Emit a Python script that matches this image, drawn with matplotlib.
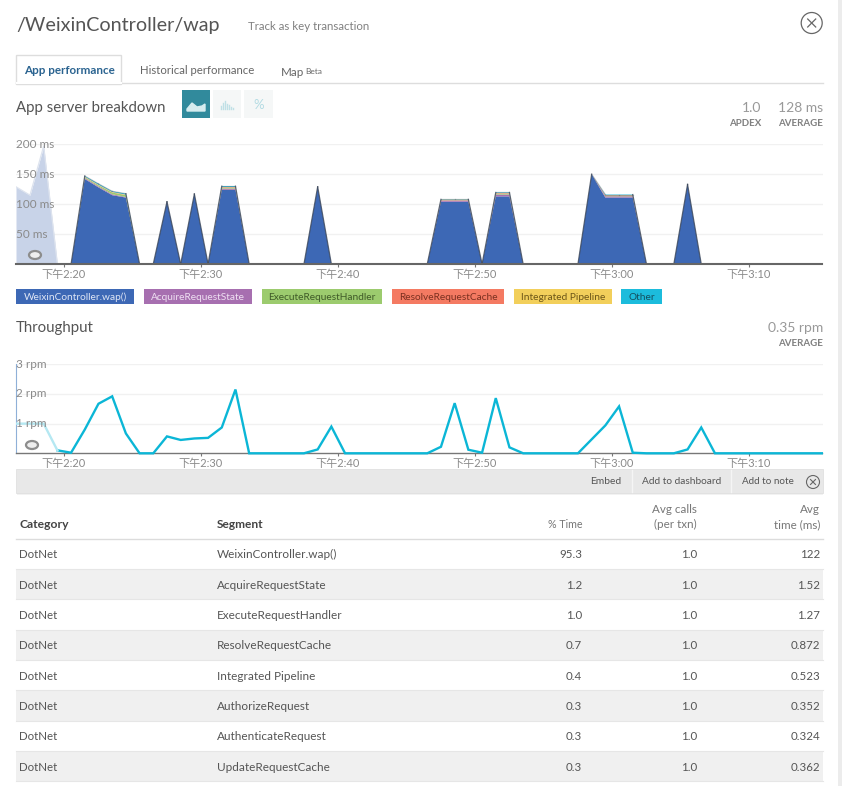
import matplotlib
matplotlib.use('Agg')
import matplotlib.pyplot as plt
from matplotlib.patches import Rectangle, Circle, Ellipse

plt.rcParams['font.family'] = ['Lato', 'Noto Sans CJK SC', 'DejaVu Sans']

W, H = 842, 786

# minutes after 2:00 for each sample (one per minute)
minutes = [16.55 + i for i in range(60)]

wap = [0, 0, 0, 0, 0, 142, 128, 115, 111, 0, 0, 104, 0, 117, 0, 124, 124, 0, 0, 0, 0, 0, 129, 0, 0, 0, 0, 0, 0, 0,
       0, 104, 104, 104, 0, 113, 113, 0, 0, 0, 0, 0, 150, 111, 111, 111, 0, 0, 0, 133, 0, 0, 0, 0, 0, 0, 0, 0, 0, 0]
acquire = [0, 0, 0, 0, 0, 1.5, 1.5, 1.5, 1, 0, 0, 0, 0, 0, 0, 2, 2, 0, 0, 0, 0, 0, 0, 0, 0, 0, 0, 0, 0, 0,
           0, 2, 2, 2, 0, 3, 3, 0, 0, 0, 0, 0, 0, 2, 2, 2, 0, 0, 0, 0, 0, 0, 0, 0, 0, 0, 0, 0, 0, 0]
execute = [0, 0, 0, 0, 0, 1.5, 2, 3, 3, 0, 0, 0, 0, 0, 0, 1, 1, 0, 0, 0, 0, 0, 0, 0, 0, 0, 0, 0, 0, 0,
           0, 0.5, 0.5, 0.5, 0, 1, 1, 0, 0, 0, 0, 0, 0, 0.5, 0.5, 0.5, 0, 0, 0, 0, 0, 0, 0, 0, 0, 0, 0, 0, 0, 0]
resolve = [0, 0, 0, 0, 0, 0.5, 0.5, 0.5, 0.5, 0, 0, 0, 0, 0, 0, 1, 1, 0, 0, 0, 0, 0, 0, 0, 0, 0, 0, 0, 0, 0,
           0, 0.5, 0.5, 0.5, 0, 1, 1, 0, 0, 0, 0, 0, 0, 1, 1, 1, 0, 0, 0, 0, 0, 0, 0, 0, 0, 0, 0, 0, 0, 0]
integrated = [0, 0, 0, 0, 0, 0.5, 0.5, 0.5, 0.5, 0, 0, 0, 0, 0, 0, 0.5, 0.5, 0, 0, 0, 0, 0, 0, 0, 0, 0, 0, 0, 0, 0,
              0, 0.5, 0.5, 0.5, 0, 0.5, 0.5, 0, 0, 0, 0, 0, 0, 0.5, 0.5, 0.5, 0, 0, 0, 0, 0, 0, 0, 0, 0, 0, 0, 0, 0, 0]
other = [0, 0, 0, 0, 0, 1, 1.5, 1, 1.5, 0, 0, 0, 0, 0, 0, 1.5, 1.5, 0, 0, 0, 0, 0, 0, 0, 0, 0, 0, 0, 0, 0,
         0, 0.5, 0.5, 0.5, 0, 1, 1, 0, 0, 0, 0, 0, 0, 1, 1, 1, 0, 0, 0, 0, 0, 0, 0, 0, 0, 0, 0, 0, 0, 0]
# the part of the chart hidden under the pale overlay
faded_minutes = [16.53, 17.55, 18.55, 19.55, 20.55]
faded_ms = [129, 115, 197, 0, 0]

rpm = [1, 1, 1, 0.1, 0.02, 0.8, 1.67, 1.92, 0.67, 0, 0, 0.57, 0.45, 0.5, 0.52, 0.87, 2.15, 0, 0, 0, 0, 0, 0.13, 0.9,
       0, 0, 0, 0, 0, 0, 0, 0.22, 1.69, 0.12, 0.02, 1.86, 0.2, 0, 0, 0, 0, 0, 0.47, 0.94, 1.58, 0.02, 0, 0, 0, 0.13, 0.87,
       0, 0, 0, 0, 0, 0, 0, 0, 0]

tick_minutes = [20, 30, 40, 50, 60, 70]
tick_labels = ['下午2:20', '下午2:30', '下午2:40', '下午2:50', '下午3:00', '下午3:10']

series_names = ['WeixinController.wap()', 'AcquireRequestState', 'ExecuteRequestHandler',
                'ResolveRequestCache', 'Integrated Pipeline', 'Other']
series_colors = ['#3d68b5', '#a76fb0', '#9ccb6e', '#f47a62', '#f2cf5b', '#1cbcdc']

categories = ['DotNet'] * 8
segments = ['WeixinController.wap()', 'AcquireRequestState', 'ExecuteRequestHandler', 'ResolveRequestCache',
            'Integrated Pipeline', 'AuthorizeRequest', 'AuthenticateRequest', 'UpdateRequestCache']
pct_time = ['95.3', '1.2', '1.0', '0.7', '0.4', '0.3', '0.3', '0.3']
avg_calls = ['1.0'] * 8
avg_time = ['122', '1.52', '1.27', '0.872', '0.523', '0.352', '0.324', '0.362']


def pixel_axes(fig, left, top, right, bottom):
    return fig.add_axes([left / W, 1 - bottom / H, (right - left) / W, (bottom - top) / H])


def time_axis(ax, ymax, yticks, ylabels):
    ax.set_xlim(16.53, 75.4)
    ax.set_ylim(0, ymax)
    ax.patch.set_alpha(0)
    for s in ['top', 'right', 'left']:
        ax.spines[s].set_visible(False)
    ax.set_xticks(tick_minutes)
    ax.set_xticklabels(tick_labels, color='#8a8a8a', fontsize=8)
    ax.tick_params(axis='x', length=2.5, width=0.8, color='#777777', pad=1)
    ax.set_yticks(yticks)
    ax.set_yticklabels([])
    ax.tick_params(axis='y', length=0)
    ax.grid(axis='y', color='#f1f1f1', lw=1)
    ax.set_axisbelow(True)
    for y, lab in zip(yticks, ylabels):
        ax.text(16.53, y, lab, color='#8a8a8a', fontsize=8.5, va='center', ha='left', zorder=6)


fig = plt.figure(figsize=(W / 100, H / 100), dpi=100, facecolor='white')

# page furniture, in pixel coordinates
bg = fig.add_axes([0, 0, 1, 1])
bg.set_xlim(0, W)
bg.set_ylim(H, 0)
bg.axis('off')
bg.add_patch(Rectangle((838, 0), 4, H, fc='#ececec', ec='none'))

bg.text(16, 26, '/WeixinController/wap', fontsize=14.2, color='#555555', va='center')
bg.text(248, 27, 'Track as key transaction', fontsize=8.25, color='#808080', va='center')
bg.add_patch(Circle((811.7, 23), 10.5, fc='white', ec='#666666', lw=0.9))
bg.plot([807.7, 815.7], [19, 27], color='#666666', lw=0.9)
bg.plot([807.7, 815.7], [27, 19], color='#666666', lw=0.9)

# tabs
bg.plot([16, 823], [83, 83], color='#dddddd', lw=1)
bg.add_patch(Rectangle((16, 54.5), 105, 29, fc='white', ec='#dddddd', lw=1))
bg.plot([17, 120.5], [83, 83], color='white', lw=1.5)
bg.text(24, 71, 'App performance', fontsize=8.4, color='#2a6390', fontweight='bold', va='center')
bg.text(140, 71, 'Historical performance', fontsize=8.2, color='#666666', va='center')
bg.text(281, 73, 'Map', fontsize=8.4, color='#666666', va='center')
bg.text(305, 71, 'Beta', fontsize=6, color='#666666', va='center')

bg.text(16, 108, 'App server breakdown', fontsize=10.8, color='#555555', va='center')
bg.add_patch(Rectangle((182, 90), 28, 28, fc='#318a9c', ec='none'))
bg.add_patch(Rectangle((213, 90), 28, 28, fc='#f5f7f7', ec='none'))
bg.add_patch(Rectangle((244, 90), 29, 28, fc='#f5f7f7', ec='none'))
bg.fill([187, 192, 197, 202, 205, 205, 187], [109, 103, 107, 106, 104, 111, 111], color='#d5ecef')
for i, h in enumerate([3, 6, 8, 5, 4, 2, 1]):
    bg.plot([221 + i * 2, 221 + i * 2], [109, 109 - h], color='#bfe0e6', lw=1)
bg.text(258.5, 105, '%', fontsize=9.5, color='#b3dbe3', ha='center', va='center')

# apdex / average blocks
bg.text(761, 108, '1.0', fontsize=10, color='#999999', ha='right', va='center')
bg.text(823, 108, '128 ms', fontsize=10, color='#999999', ha='right', va='center')
bg.text(761, 123.5, 'APDEX', fontsize=7, color='#808080', fontweight='bold', ha='right', va='center')
bg.text(823, 123.5, 'AVERAGE', fontsize=7, color='#808080', fontweight='bold', ha='right', va='center')

bg.text(16, 328, 'Throughput', fontsize=10.8, color='#555555', va='center')
bg.text(823, 328.5, '0.35 rpm', fontsize=10, color='#999999', ha='right', va='center')
bg.text(823, 343.5, 'AVERAGE', fontsize=7, color='#808080', fontweight='bold', ha='right', va='center')

# legend chips
chip_left = [16, 144, 262, 392, 514, 621]
chip_right = [134, 252, 382, 504, 612, 662]
chip_text = ['#dfe6f5', '#efe0f2', '#3f5a28', '#7a3020', '#6b5518', '#14505f']
for i, name in enumerate(series_names):
    bg.add_patch(Rectangle((chip_left[i], 288.5), chip_right[i] - chip_left[i], 15, fc=series_colors[i], ec='none'))
    bg.text((chip_left[i] + chip_right[i]) / 2, 297, name, fontsize=7.3, color=chip_text[i], ha='center', va='center')

# toolbar
bg.add_patch(Rectangle((17, 471), 806, 23.5, fc='#f2f2f2', ec='none'))
bg.add_patch(Rectangle((16, 469.3), 807, 23.4, fc='#e8e8e8', ec='#e0e0e0', lw=0.6))
bg.text(605.5, 482, 'Embed', fontsize=7.4, color='#555555', ha='center', va='center')
bg.text(681.5, 482, 'Add to dashboard', fontsize=7.3, color='#555555', ha='center', va='center')
bg.text(768, 482, 'Add to note', fontsize=7.1, color='#555555', ha='center', va='center')
bg.plot([631.7, 631.7], [470, 492], color='#f5f5f5', lw=1)
bg.plot([731, 731], [470, 492], color='#f5f5f5', lw=1)
bg.add_patch(Circle((813, 482), 6.5, fc='none', ec='#666666', lw=0.8))
bg.plot([810.5, 815.5], [479.5, 484.5], color='#666666', lw=0.8)
bg.plot([810.5, 815.5], [484.5, 479.5], color='#666666', lw=0.8)

# table
bg.text(19, 524.5, 'Category', fontsize=8.7, color='#444444', fontweight='bold', va='center')
bg.text(217, 524.5, 'Segment', fontsize=8.6, color='#444444', fontweight='bold', va='center')
bg.text(582, 524.5, '% Time', fontsize=7.7, color='#777777', ha='right', va='center')
bg.text(697, 509.5, 'Avg calls', fontsize=8.4, color='#777777', ha='right', va='center')
bg.text(697, 524.5, '(per txn)', fontsize=8.4, color='#777777', ha='right', va='center')
bg.text(820, 509.5, 'Avg', fontsize=8.4, color='#777777', ha='right', va='center')
bg.text(820, 524.5, 'time (ms)', fontsize=8.4, color='#777777', ha='right', va='center')
bg.plot([16, 823], [538.5, 538.5], color='#dcdcdc', lw=1)
row_h = 30.35
for i in range(len(segments)):
    top = 538.5 + i * row_h
    if i % 2 == 1:
        bg.add_patch(Rectangle((16, top), 807, row_h, fc='#f0f0f0', ec='none'))
    bg.plot([16, 823], [top + row_h, top + row_h], color='#e6e6e6', lw=0.8)
    mid = top + row_h / 2 + 1
    bg.text(19, mid, categories[i], fontsize=8.3, color='#555555', va='center')
    bg.text(217, mid, segments[i], fontsize=8.5, color='#555555', va='center')
    bg.text(582, mid, pct_time[i], fontsize=8.3, color='#555555', ha='right', va='center')
    bg.text(697, mid, avg_calls[i], fontsize=8.3, color='#555555', ha='right', va='center')
    bg.text(820, mid, avg_time[i], fontsize=8.3, color='#555555', ha='right', va='center')

# app server breakdown
ax1 = pixel_axes(fig, 16, 144.3, 822.5, 264)
time_axis(ax1, 200, [50, 100, 150, 200], ['50 ms', '100 ms', '150 ms', '200 ms'])
ax1.stackplot(minutes, wap, acquire, execute, resolve, integrated, other, colors=series_colors, lw=0, zorder=3)
totals = [sum(v) for v in zip(wap, acquire, execute, resolve, integrated, other)]
# slopes get the full dark edge, flat tops only a faint one so the thin series show
for i in range(len(totals) - 1):
    if totals[i] == 0 and totals[i + 1] == 0:
        continue
    edge_alpha = 0.8 if totals[i] == 0 or totals[i + 1] == 0 else 0.3
    ax1.plot(minutes[i:i + 2], totals[i:i + 2], color='#3b4658', lw=0.9, alpha=edge_alpha, zorder=4)
ax1.fill_between(faded_minutes, faded_ms, color='#c8d3e8', lw=0, zorder=5)
ax1.plot(faded_minutes, faded_ms, color='#dde3ee', lw=0.9, zorder=5)
ax1.spines['bottom'].set_color('#666666')
ax1.spines['bottom'].set_linewidth(1.5)
ax1.spines['bottom'].set_zorder(7)

# throughput
ax2 = pixel_axes(fig, 16, 364.3, 822.5, 453.3)
time_axis(ax2, 3, [1, 2, 3], ['1 rpm', '2 rpm', '3 rpm'])
# clip a little below the axes so the line at zero keeps its full width, but not past the right edge
clip = Rectangle((16, 350), 806.5, 106, transform=bg.transData)
rpm_line, = ax2.plot(minutes[3:], rpm[3:], color='#0bb6d6', lw=1.7, solid_joinstyle='miter', zorder=4)
rpm_line.set_clip_path(clip)
faded_line, = ax2.plot(minutes[:4], rpm[:4], color='#b5e8f2', lw=1.7, zorder=4)
faded_line.set_clip_path(clip)
ax2.set_xlim(16.53, 75.4)
ax2.spines['left'].set_visible(True)
ax2.spines['left'].set_color('#8fb0d8')
ax2.spines['bottom'].set_color('#777777')
ax2.spines['bottom'].set_linewidth(1)

# range handles sit over both charts
fg = fig.add_axes([0, 0, 1, 1])
fg.set_xlim(0, W)
fg.set_ylim(H, 0)
fg.axis('off')
fg.patch.set_alpha(0)
fg.add_patch(Ellipse((35, 255), 12, 8, fc='#eeeeee', ec='#8d8d8d', lw=1.6))
fg.add_patch(Ellipse((32, 445), 12, 8, fc='#eeeeee', ec='#8d8d8d', lw=1.6))

fig.savefig('out.png', dpi=100)
